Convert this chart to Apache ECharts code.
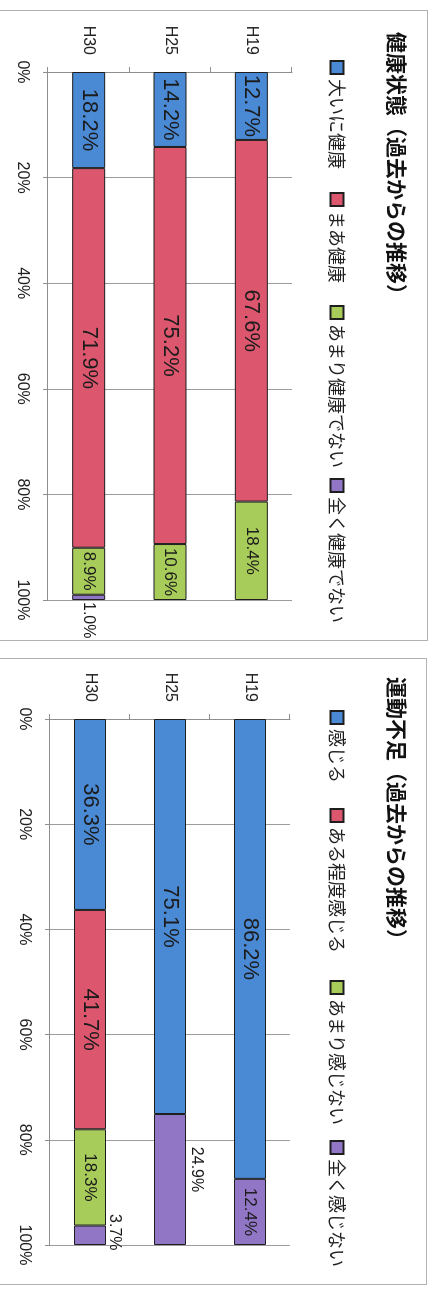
<!DOCTYPE html>
<html lang="ja">
<head>
<meta charset="utf-8">
<title>健康状態・運動不足（過去からの推移）</title>
<script src="https://cdn.jsdelivr.net/npm/echarts@6/dist/echarts.min.js"></script>
<style>
  html, body { margin: 0; padding: 0; background: #fff; }
  body { position: relative; width: 439px; height: 1290px; overflow: hidden; }
  /* each panel is laid out as a normal horizontal chart, then turned a quarter turn clockwise */
  .panel {
    position: absolute;
    transform-origin: 0 0;
    outline: 1px solid #b2b2b2;
    outline-offset: -1px;
    background: #fff;
  }
  .panel > div { position: absolute; left: 0; top: 0; width: 100%; height: 100%; }
</style>
</head>
<body>
<div class="panel" id="panelHealth"><div id="chartHealth"></div></div>
<div class="panel" id="panelExercise"><div id="chartExercise"></div></div>
<script>
// ---- data ----
const categories = ['H19', 'H25', 'H30'];

const healthTitle = '健康状態（過去からの推移）';
const healthNames = ['大いに健康', 'まあ健康', 'あまり健康でない', '全く健康でない'];
const healthVeryGood = [12.7, 14.2, 18.2];
const healthGood = [67.6, 75.2, 71.9];
const healthNotVery = [18.4, 10.6, 8.9];
const healthNotAtAll = [null, null, 1.0];

const exerciseTitle = '運動不足（過去からの推移）';
const exerciseNames = ['感じる', 'ある程度感じる', 'あまり感じない', '全く感じない'];
const exerciseFeel = [86.2, 75.1, 36.3];
const exerciseSomewhat = [null, null, 41.7];
const exerciseNotMuch = [null, null, 18.3];
const exerciseNotAtAll = [12.4, 24.9, 3.7];

// ---- styling ----
const seriesColors = ['#4a89d4', '#dc566e', '#a8cc5a', '#9276c6'];
const cjkFont = '"Noto Sans CJK JP", "Noto Sans", sans-serif';
const latinFont = '"Liberation Sans", Arial, sans-serif';
const axisGray = '#8e8e8e';

// panel frames: x/y on the page after turning, w/h before turning
const healthLayout = {
  x: -4, y: 10, w: 631, h: 432,
  grid: { left: 62, right: 41, top: 136, bottom: 52 },
  barWidth: 33,
  titleLeft: 22, titleTop: 21,
  legendLeft: [50, 182, 295, 468], legendTop: 82,
  labelTweaks: {
    '3-2': { position: 'right', distance: 2, fontSize: 16 }
  }
};
const exerciseLayout = {
  x: -4, y: 658, w: 627, h: 431,
  grid: { left: 61, right: 40, top: 137, bottom: 54 },
  barWidth: 32,
  titleLeft: 19, titleTop: 20,
  legendLeft: [52, 150, 322, 482], legendTop: 81,
  labelTweaks: {
    '3-1': { position: 'top', distance: 2, offset: [-10, 0], fontSize: 16 },
    '3-2': { position: 'top', distance: 0, offset: [-3, 0], fontSize: 16 }
  }
};

function placePanel(panel, lay) {
  panel.style.left = lay.x + 'px';
  panel.style.top = lay.y + 'px';
  panel.style.width = lay.w + 'px';
  panel.style.height = lay.h + 'px';
  panel.style.transform = 'translateX(' + lay.h + 'px) rotate(90deg)';
}

function buildOption(title, names, rows, lay) {
  // 100% stacked: each year is scaled by its own total, labels keep the raw share
  const totals = categories.map((_, i) =>
    rows.reduce((s, r) => s + (r[i] == null ? 0 : r[i]), 0));

  const series = rows.map((row, si) => ({
    name: names[si],
    type: 'bar',
    stack: 'total',
    barWidth: lay.barWidth,
    itemStyle: { color: seriesColors[si], borderColor: '#1e1e1e', borderWidth: 1 },
    label: {
      show: true,
      position: 'inside',
      color: '#1b1b1b',
      fontFamily: latinFont,
      fontSize: si < 2 ? 22 : 17,
      formatter: p => p.data.raw.toFixed(1) + '%'
    },
    emphasis: { disabled: true },
    data: row.map((v, i) => {
      if (v == null) return '-';
      const item = { value: v / totals[i] * 100, raw: v };
      const tweak = lay.labelTweaks[si + '-' + i];
      if (tweak) item.label = tweak;
      return item;
    })
  }));

  const legends = names.map((n, i) => ({
    data: [n],
    left: lay.legendLeft[i],
    top: lay.legendTop,
    padding: 0,
    itemWidth: 13,
    itemHeight: 13,
    icon: 'rect',
    selectedMode: false,
    textStyle: { fontSize: 18, color: '#1f1f1f', fontFamily: cjkFont }
  }));

  return {
    animation: false,
    backgroundColor: 'transparent',
    title: {
      text: title,
      left: lay.titleLeft,
      top: lay.titleTop,
      padding: 0,
      textStyle: { fontSize: 21, fontWeight: 'bold', color: '#121212', fontFamily: cjkFont }
    },
    legend: legends,
    grid: lay.grid,
    xAxis: {
      type: 'value',
      min: 0,
      max: 100,
      interval: 20,
      axisLine: { show: true, lineStyle: { color: axisGray, width: 1 } },
      axisTick: { show: true, length: 5, lineStyle: { color: axisGray } },
      splitLine: { show: true, lineStyle: { color: '#9c9c9c', width: 1 } },
      axisLabel: { formatter: '{value}%', fontSize: 16, color: '#222', margin: 18, fontFamily: latinFont }
    },
    yAxis: {
      type: 'category',
      data: categories,
      inverse: true,
      axisLine: { show: true, lineStyle: { color: axisGray, width: 1 } },
      axisTick: { show: true, length: 5, lineStyle: { color: axisGray } },
      axisLabel: { fontSize: 16, color: '#222', margin: 17, fontFamily: latinFont }
    },
    series: series
  };
}

placePanel(document.getElementById('panelHealth'), healthLayout);
placePanel(document.getElementById('panelExercise'), exerciseLayout);

const healthChart = echarts.init(document.getElementById('chartHealth'), null, { renderer: 'canvas' });
healthChart.setOption(buildOption(healthTitle, healthNames,
  [healthVeryGood, healthGood, healthNotVery, healthNotAtAll], healthLayout));

const exerciseChart = echarts.init(document.getElementById('chartExercise'), null, { renderer: 'canvas' });
exerciseChart.setOption(buildOption(exerciseTitle, exerciseNames,
  [exerciseFeel, exerciseSomewhat, exerciseNotMuch, exerciseNotAtAll], exerciseLayout));
</script>
</body>
</html>
